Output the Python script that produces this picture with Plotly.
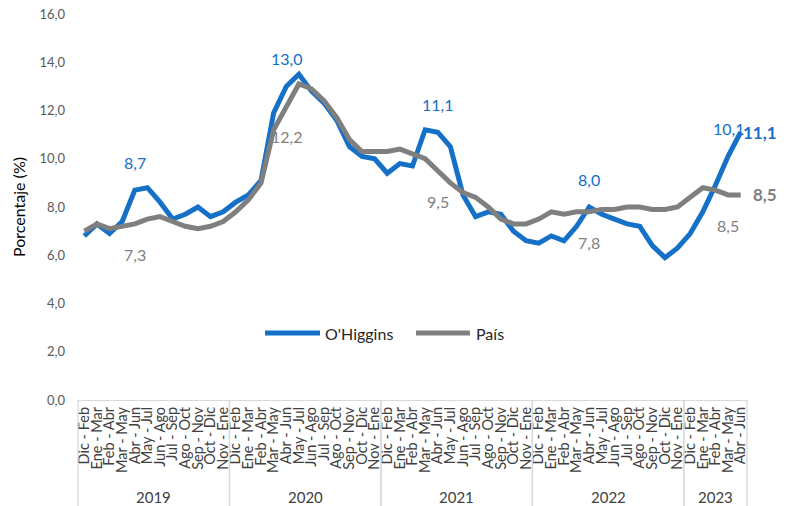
import plotly.graph_objects as go

# ---------------- data ----------------
years = ["2019", "2020", "2021", "2022", "2023"]
periods = ["Dic - Feb", "Ene - Mar", "Feb - Abr", "Mar - May", "Abr - Jun", "May - Jul",
           "Jun - Ago", "Jul - Sep", "Ago - Oct", "Sep - Nov", "Oct - Dic", "Nov - Ene"]
periods_per_year = [12, 12, 12, 12, 5]

ohiggins = [6.8, 7.3, 6.9, 7.4, 8.7, 8.8, 8.2, 7.5, 7.7, 8.0, 7.6, 7.8,
            8.2, 8.5, 9.1, 11.9, 13.0, 13.5, 12.8, 12.3, 11.6, 10.5, 10.1, 10.0,
            9.4, 9.8, 9.7, 11.2, 11.1, 10.5, 8.5, 7.6, 7.8, 7.7, 7.0, 6.6,
            6.5, 6.8, 6.6, 7.2, 8.0, 7.7, 7.5, 7.3, 7.2, 6.4, 5.9, 6.3,
            6.9, 7.8, 8.9, 10.1, 11.1]
pais = [7.0, 7.3, 7.1, 7.2, 7.3, 7.5, 7.6, 7.4, 7.2, 7.1, 7.2, 7.4,
        7.8, 8.3, 9.0, 11.2, 12.2, 13.1, 12.9, 12.4, 11.7, 10.8, 10.3, 10.3,
        10.3, 10.4, 10.2, 10.0, 9.5, 9.0, 8.6, 8.4, 8.0, 7.5, 7.3, 7.3,
        7.5, 7.8, 7.7, 7.8, 7.8, 7.9, 7.9, 8.0, 8.0, 7.9, 7.9, 8.0,
        8.4, 8.8, 8.7, 8.5, 8.5]
label_idx = [4, 16, 28, 40, 51]
y_ticks = [0, 2, 4, 6, 8, 10, 12, 14, 16]
series_names = ["O'Higgins", "País"]

categories = [p for n in periods_per_year for p in periods[:n]]
x = list(range(len(categories)))

BLUE = "#1570C8"
GRAY = "#7F7F7F"
FONT = "Lato"
colors = [BLUE, GRAY]


def fmt(v):
    return f"{v:.1f}".replace(".", ",")


fig = go.Figure()
for name, vals, col in zip(series_names, [ohiggins, pais], colors):
    fig.add_trace(go.Scatter(x=x, y=vals, mode="lines", name=name,
                             line=dict(color=col, width=5), showlegend=False))

annotations = []
for i in label_idx:
    annotations.append(dict(x=x[i], y=ohiggins[i], xref="x", yref="y", text=fmt(ohiggins[i]),
                            showarrow=False, yshift=28, font=dict(size=16, color=BLUE, family=FONT)))
    annotations.append(dict(x=x[i], y=pais[i], xref="x", yref="y", text=fmt(pais[i]),
                            showarrow=False, yshift=-31, font=dict(size=16, color=GRAY, family=FONT)))
# bold end labels
annotations.append(dict(x=x[-1], y=ohiggins[-1], xref="x", yref="y", text="<b>" + fmt(ohiggins[-1]) + "</b>",
                        showarrow=False, xanchor="left", xshift=0, font=dict(size=17, color=BLUE, family=FONT)))
annotations.append(dict(x=x[-1], y=pais[-1], xref="x", yref="y", text="<b>" + fmt(pais[-1]) + "</b>",
                        showarrow=False, xanchor="left", xshift=10, font=dict(size=17, color=GRAY, family=FONT)))

# year group labels and separators
n_cat = len(categories)
shapes = []
start = 0
bottom = -106 / 386
for yr, n in zip(years, periods_per_year):
    annotations.append(dict(x=start + (n - 1) / 2, y=-97 / 386, xref="x", yref="paper", text=yr,
                            showarrow=False, yanchor="middle", font=dict(size=15, color="#404040", family=FONT)))
    for b in (start, start + n):
        shapes.append(dict(type="line", xref="x domain", yref="paper", x0=b / n_cat, x1=b / n_cat,
                           y0=0, y1=bottom, line=dict(color="#D9D9D9", width=1.3)))
    start += n

# manual legend (long line swatches like the original)
leg_y = (400 - 333) / 386
leg_items = [(265, 320, 323), (416, 470, 474)]
for (x0, x1, xt), name, col in zip(leg_items, series_names, colors):
    shapes.append(dict(type="line", xref="paper", yref="paper", x0=(x0 - 78) / 669, x1=(x1 - 78) / 669,
                       y0=leg_y, y1=leg_y, line=dict(color=col, width=5)))
    annotations.append(dict(x=(xt - 78) / 669, y=leg_y, xref="paper", yref="paper", text=name,
                            showarrow=False, xanchor="left", yanchor="middle",
                            font=dict(size=16, color="#262626", family=FONT)))

fig.update_layout(
    width=790, height=506,
    margin=dict(l=78, r=43, t=14, b=106),
    paper_bgcolor="white", plot_bgcolor="white",
    separators=",.",
    font=dict(family=FONT, color="#404040"),
    showlegend=False,
    annotations=annotations,
    shapes=shapes,
    xaxis=dict(range=[-0.5, n_cat - 0.5], tickmode="array", tickvals=x, ticktext=categories,
               tickangle=-90, tickfont=dict(size=14.5, color="#404040", family=FONT),
               showgrid=False, zeroline=False, showline=True, linecolor="#D9D9D9", linewidth=1.3,
               ticks="", automargin=False),
    yaxis=dict(range=[0, 16], tickmode="array", tickvals=y_ticks, tickformat=".1f",
               tickfont=dict(size=13, color="#595959", family=FONT),
               showgrid=False, zeroline=False, showline=False, ticks="", ticklabelstandoff=12,
               ticklabeloverflow="allow", automargin=False,
               title=dict(text="Porcentaje (%)", font=dict(size=16, color="#000000", family=FONT),
                          standoff=9)),
)

# remove the default page margin so the 790x506 figure fills the window exactly
fig.write_html("out.html", config={"displayModeBar": False},
               post_script="document.body.style.margin='0';document.body.style.padding='0';")
